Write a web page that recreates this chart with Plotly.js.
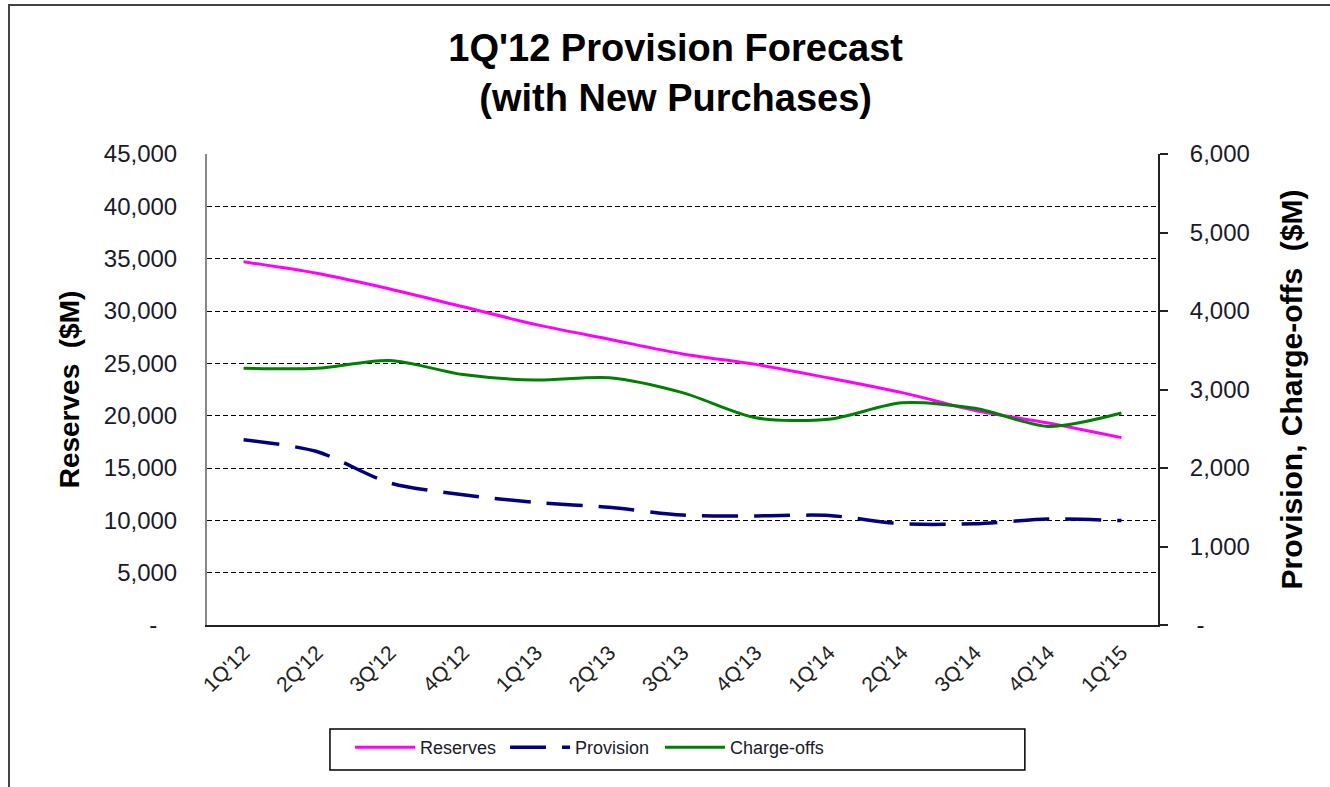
<!DOCTYPE html>
<html>
<head>
<meta charset="utf-8">
<script src="https://cdn.plot.ly/plotly-3.0.1.min.js"></script>
<style>
  html, body { margin: 0; padding: 0; background: #fff; }
  #frame { position: absolute; left: 8px; top: 4px; width: 1340px; height: 800px; border: 2px solid #444; box-sizing: border-box; pointer-events: none; }
  #chart { width: 1330px; height: 787px; }
</style>
</head>
<body>
<div id="chart"></div>
<div id="frame"></div>
<script>
const categories = ["1Q'12","2Q'12","3Q'12","4Q'12","1Q'13","2Q'13","3Q'13","4Q'13","1Q'14","2Q'14","3Q'14","4Q'14","1Q'15"];
const reserves   = [34700, 33600, 32100, 30400, 28700, 27300, 25900, 24900, 23600, 22200, 20500, 19300, 17900];
const provision  = [2360, 2210, 1810, 1660, 1560, 1500, 1400, 1390, 1395, 1290, 1290, 1350, 1330];
const chargeoffs = [3270, 3270, 3370, 3190, 3120, 3150, 2960, 2640, 2620, 2830, 2760, 2530, 2700];
const leftTicks  = [0, 5000, 10000, 15000, 20000, 25000, 30000, 35000, 40000, 45000];
const leftLabels = ["-\u00a0\u00a0\u00a0", "5,000", "10,000", "15,000", "20,000", "25,000", "30,000", "35,000", "40,000", "45,000"];
const rightTicks  = [0, 1000, 2000, 3000, 4000, 5000, 6000];
const rightLabels = ["\u00a0-", "1,000", "2,000", "3,000", "4,000", "5,000", "6,000"];

const FONT = "Liberation Sans, Arial, sans-serif";
const TXT = "#1a1a2a";

const traces = [
  { x: categories, y: reserves, name: "Reserves", type: "scatter", mode: "lines",
    line: { color: "#ff00ff", width: 3, shape: "spline", smoothing: 0.8 }, yaxis: "y", legend: "legend" },
  { x: categories, y: provision, name: "Provision", type: "scatter", mode: "lines",
    line: { color: "#000080", width: 3.5, dash: "36px,16px", shape: "spline", smoothing: 0.8 }, yaxis: "y2", legend: "legend2" },
  { x: categories, y: chargeoffs, name: "Charge-offs", type: "scatter", mode: "lines",
    line: { color: "#008000", width: 3, shape: "spline", smoothing: 0.8 }, yaxis: "y2", legend: "legend3" }
];

function legendAt(xpos) {
  return {
    orientation: "h", x: xpos, xanchor: "left", y: -0.221, yanchor: "top",
    borderwidth: 0, bgcolor: "rgba(0,0,0,0)",
    font: { family: FONT, size: 18, color: TXT },
    itemwidth: 60
  };
}

const layout = {
  width: 1330, height: 787,
  margin: { l: 207, r: 172, t: 154, b: 162 },
  paper_bgcolor: "#fff", plot_bgcolor: "#fff",
  font: { family: FONT, color: TXT },
  showlegend: true,
  title: {
    text: "<b>1Q'12 Provision Forecast</b><br><b>(with New Purchases)</b>",
    font: { family: FONT, size: 38, color: "#000" },
    x: 0.508, xanchor: "center", y: 0.922, yanchor: "top"
  },
  xaxis: {
    type: "category", range: [-0.5, 12.5],
    showgrid: false, zeroline: false,
    showline: true, linecolor: "#222", linewidth: 2,
    ticks: "", tickangle: -45,
    tickfont: { family: FONT, size: 21, color: "#222" },
    ticklabelstandoff: 5
  },
  yaxis: {
    range: [0, 45000], tickvals: leftTicks, ticktext: leftLabels,
    showgrid: true, gridcolor: "#000", gridwidth: 1, griddash: "5px,3px",
    zeroline: false, showline: true, linecolor: "#888", linewidth: 2,
    ticks: "", tickfont: { family: FONT, size: 24, color: TXT },
    ticklabelstandoff: 23,
    title: { text: "<b>Reserves  ($M)</b>", font: { family: FONT, size: 28, color: "#000" }, standoff: 16 }
  },
  yaxis2: {
    range: [0, 6000], tickvals: rightTicks, ticktext: rightLabels,
    overlaying: "y", side: "right", anchor: "x",
    showgrid: false, zeroline: false, showline: true, linecolor: "#222", linewidth: 2,
    ticks: "outside", ticklen: 8, tickwidth: 2, tickcolor: "#222",
    tickfont: { family: FONT, size: 24, color: TXT },
    ticklabelstandoff: 17,
    title: { text: "<b>Provision, Charge-offs  ($M)</b>", font: { family: FONT, size: 30, color: "#000" }, standoff: 32 }
  },
  yaxis3: {
    range: [0, 6000], tickvals: rightTicks,
    overlaying: "y", side: "right", anchor: "x",
    showgrid: false, zeroline: false, showline: false, showticklabels: false,
    ticks: "inside", ticklen: 8, tickwidth: 2, tickcolor: "#222"
  },
  legend: legendAt(0.1504),
  legend2: legendAt(0.3134),
  legend3: legendAt(0.4763),
  shapes: [
    { type: "rect", xref: "paper", yref: "paper",
      x0: 0.1293, x1: 0.860, y0: -0.3079, y1: -0.2208,
      line: { color: "#000", width: 1.5 }, fillcolor: "rgba(0,0,0,0)", layer: "below" }
  ]
};

Plotly.newPlot("chart", traces, layout, { displayModeBar: false, staticPlot: true });
</script>
</body>
</html>
